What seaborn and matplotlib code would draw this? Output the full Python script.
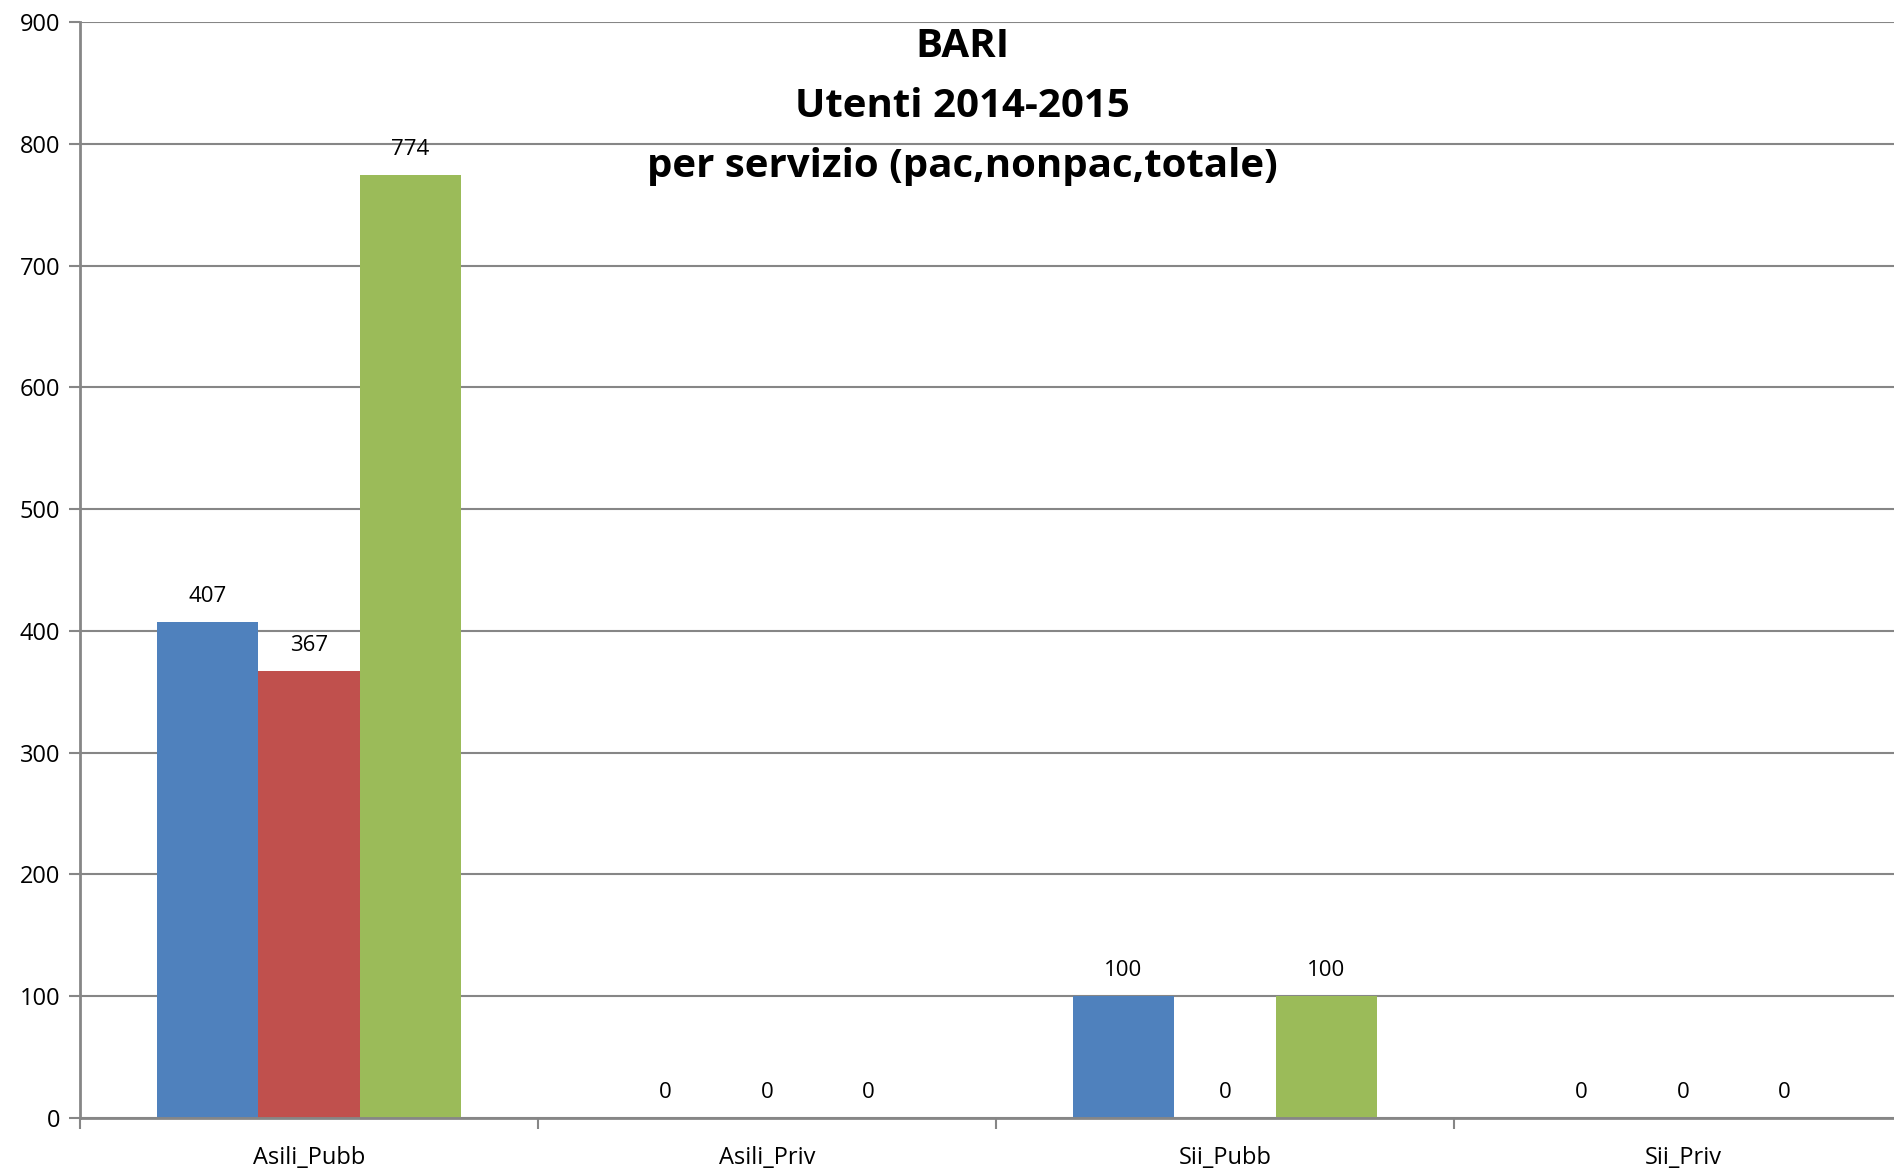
import pandas as pd
import matplotlib.pyplot as plt
import seaborn as sns

# Chart data
categories = ['Asili_Pubb', 'Asili_Priv', 'Sii_Pubb', 'Sii_Priv']
series = ['pac', 'nonpac', 'totale']
pac = [407, 0, 100, 0]
nonpac = [367, 0, 0, 0]
totale = [774, 0, 100, 0]
colors = ['#4F81BD', '#C0504D', '#9BBB59']
y_ticks = [0, 100, 200, 300, 400, 500, 600, 700, 800, 900]


def main():
    df = pd.DataFrame({
        'servizio': categories * 3,
        'serie': [s for s in series for _ in categories],
        'utenti': pac + nonpac + totale,
    })

    sns.set_theme(style='white')
    plt.rcParams['font.family'] = ['Open Sans', 'DejaVu Sans']
    plt.rcParams['text.color'] = 'black'
    plt.rcParams['xtick.color'] = 'black'
    plt.rcParams['ytick.color'] = 'black'

    fig = plt.figure(figsize=(18.94, 11.75), dpi=100)
    ax = fig.add_axes([0.0422, 0.0485, 0.9673, 0.9328])

    sns.barplot(data=df, x='servizio', y='utenti', hue='serie',
                order=categories, hue_order=series, palette=colors,
                width=0.665, saturation=1, linewidth=0, legend=False, ax=ax)

    for cont in ax.containers:
        ax.bar_label(cont, fmt='%d', padding=11, fontsize=16, color='black')

    # axes styling
    ax.set_ylim(0, 900)
    ax.set_xlim(-0.5, 3.5)
    ax.set_yticks(y_ticks)
    ax.set_yticklabels([str(v) for v in y_ticks], fontsize=17)
    ax.yaxis.grid(True, color='#868686', linewidth=1.5)
    ax.set_axisbelow(True)
    ax.tick_params(axis='y', length=8, width=1.5, color='#868686',
                   labelcolor='black', left=True, pad=6)

    ax.set_xticks(range(len(categories)))
    ax.set_xticklabels(categories, fontsize=17)
    ax.tick_params(axis='x', which='major', length=0, pad=20, labelcolor='black')
    ax.set_xticks([-0.5, 0.5, 1.5, 2.5, 3.5], minor=True)
    ax.tick_params(axis='x', which='minor', length=8, width=1.5,
                   color='#868686', bottom=True)

    ax.set_xlabel('')
    ax.set_ylabel('')
    for side in ['top', 'right']:
        ax.spines[side].set_visible(False)
    for side in ['left', 'bottom']:
        ax.spines[side].set_color('#868686')
        ax.spines[side].set_linewidth(2)

    fig.text(0.508, 0.9095, 'BARI\nUtenti 2014-2015\nper servizio (pac,nonpac,totale)',
             ha='center', va='center', fontsize=29, fontweight='bold',
             color='black', linespacing=1.69)

    fig.savefig('out.png', dpi=100)
    plt.close(fig)


if __name__ == '__main__':
    main()
